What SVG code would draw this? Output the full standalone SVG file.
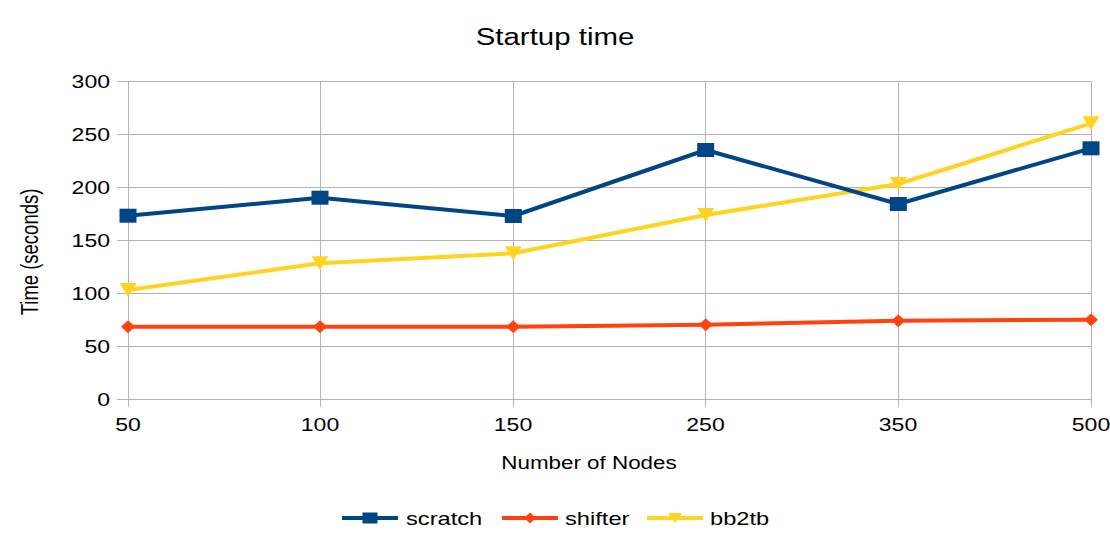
<svg xmlns="http://www.w3.org/2000/svg" width="1110" height="533" viewBox="0 0 1110 533">
<style>
text{font-family:"Liberation Sans",Arial,sans-serif;fill:#000}
.grid{stroke:#b3b3b3;stroke-width:1;fill:none}
.tick{font-size:18px}
.s1{stroke:#004586;stroke-width:4;fill:none;stroke-linejoin:round}
.s2{stroke:#ff420e;stroke-width:4;fill:none;stroke-linejoin:round}
.s3{stroke:#ffd320;stroke-width:4;fill:none;stroke-linejoin:round}
.m1{fill:#004586}
.m2{fill:#ff420e}
.m3{fill:#ffd320}
</style>
<defs>
<rect id="sq" x="-8.5" y="-7" width="17" height="14"/>
<polygon id="dm" points="0,-6.5 7,0 0,6.5 -7,0"/>
<polygon id="tr" points="-8.5,-7 8.5,-7 0,7"/>
<rect id="lsq" x="-7.5" y="-5.5" width="15" height="11"/>
<polygon id="ldm" points="0,-5.5 6,0 0,5.5 -6,0"/>
<polygon id="ltr" points="-7,-5 7,-5 0,5"/>
</defs>
<rect width="1110" height="533" fill="#fff"/>
<g id="title"><text transform="translate(555,45) scale(1.28,1)" text-anchor="middle" font-size="23">Startup time</text></g>
<g id="grid">
<path class="grid" d="M117,81.5H1091M117,134.5H1091M117,187.5H1091M117,240.5H1091M117,293.5H1091M117,346.5H1091M117,399.5H1091"/>
<path class="grid" d="M128.5,81.5V407M320.5,81.5V407M513.5,81.5V407M705.5,81.5V407M898.5,81.5V407M1091.5,81.5V407"/>
</g>
<g id="y-axis" class="tick" text-anchor="end">
<text transform="translate(110,88) scale(1.28,1)">300</text>
<text transform="translate(110,141) scale(1.28,1)">250</text>
<text transform="translate(110,194) scale(1.28,1)">200</text>
<text transform="translate(110,247) scale(1.28,1)">150</text>
<text transform="translate(110,300) scale(1.28,1)">100</text>
<text transform="translate(110,353) scale(1.28,1)">50</text>
<text transform="translate(110,406) scale(1.28,1)">0</text>
</g>
<g id="x-axis" class="tick" text-anchor="middle">
<text transform="translate(128,431) scale(1.28,1)">50</text>
<text transform="translate(320,431) scale(1.28,1)">100</text>
<text transform="translate(513,431) scale(1.28,1)">150</text>
<text transform="translate(705.5,431) scale(1.28,1)">250</text>
<text transform="translate(898,431) scale(1.28,1)">350</text>
<text transform="translate(1091,431) scale(1.28,1)">500</text>
</g>
<g id="x-title"><text transform="translate(589,469) scale(1.28,1)" text-anchor="middle" font-size="17.5">Number of Nodes</text></g>
<g id="y-title"><text transform="translate(38,252) scale(1.3,1) rotate(-90)" text-anchor="middle" font-size="18.5">Time (seconds)</text></g>
<g id="connectors">
<polyline class="s2" points="128,326.7 320,326.7 513.3,326.7 705.7,324.7 898.3,320.7 1091,319.7"/>
<polyline class="s3" points="128,290 320,263.3 513.3,253.3 705.7,215 898.3,184 1091,123.3"/>
<polyline class="s1" points="128,215.7 320,197.7 513.3,216 705.7,150 898.3,204 1091,148.3"/>
</g>
<g id="shifter" class="m2">
<use href="#dm" x="128" y="326.7"/><use href="#dm" x="320" y="326.7"/><use href="#dm" x="513.3" y="326.7"/>
<use href="#dm" x="705.7" y="324.7"/><use href="#dm" x="898.3" y="320.7"/><use href="#dm" x="1091" y="319.7"/>
</g>
<g id="bb2tb" class="m3">
<use href="#tr" x="128" y="290"/><use href="#tr" x="320" y="263.3"/><use href="#tr" x="513.3" y="253.3"/>
<use href="#tr" x="705.7" y="215"/><use href="#tr" x="898.3" y="184"/><use href="#tr" x="1091" y="123.3"/>
</g>
<g id="scratch" class="m1">
<use href="#sq" x="128" y="215.7"/><use href="#sq" x="320" y="197.7"/><use href="#sq" x="513.3" y="216"/>
<use href="#sq" x="705.7" y="150"/><use href="#sq" x="898.3" y="204"/><use href="#sq" x="1091" y="148.3"/>
</g>
<g id="legend">
<line class="s1" x1="342" y1="518" x2="398" y2="518"/><use href="#lsq" class="m1" x="370" y="518"/>
<text transform="translate(406,525) scale(1.28,1)" font-size="18.5">scratch</text>
<line class="s2" x1="502" y1="518" x2="558" y2="518"/><use href="#ldm" class="m2" x="530" y="518"/>
<text transform="translate(565,525) scale(1.28,1)" font-size="18.5">shifter</text>
<line class="s3" x1="647" y1="518" x2="703" y2="518"/><use href="#ltr" class="m3" x="675" y="518"/>
<text transform="translate(710,525) scale(1.28,1)" font-size="18.5">bb2tb</text>
</g>
</svg>
